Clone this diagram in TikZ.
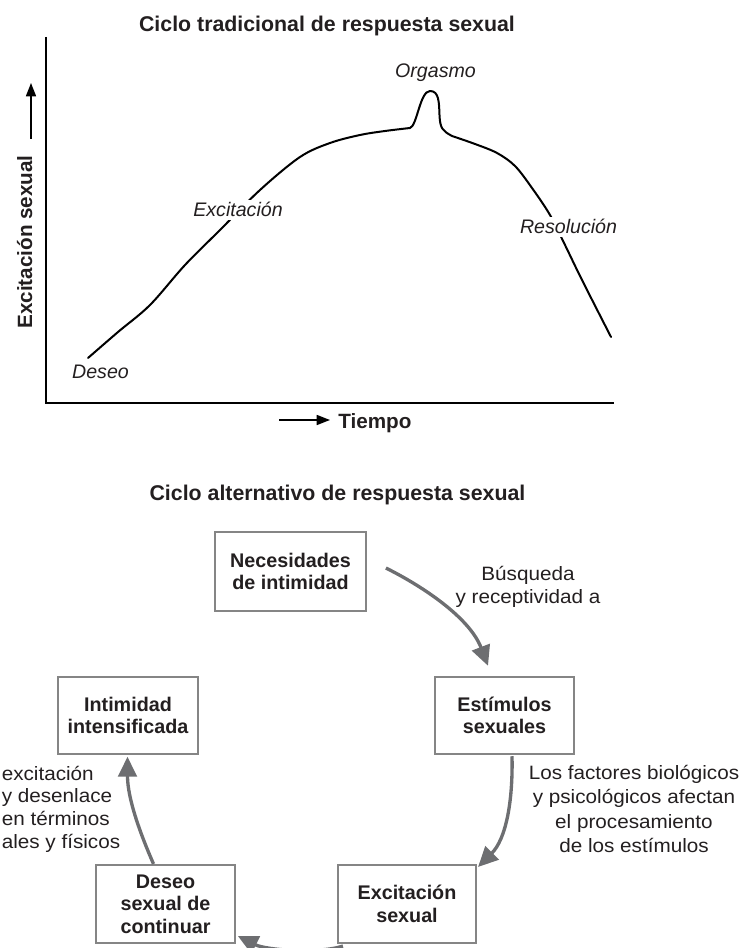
\documentclass[tikz,border=0pt]{standalone}
\usepackage{fontspec}
\setmainfont{Liberation Sans}
\newfontfamily\notefont[FakeStretch=1.07]{Liberation Sans}
\usetikzlibrary{arrows.meta,calc}
\definecolor{arrowgray}{HTML}{6D6E71}
\definecolor{boxgray}{HTML}{858585}
\definecolor{ink}{HTML}{231F20}
\begin{document}
\begin{tikzpicture}[x=0.75pt,y=-0.75pt,
  every node/.style={text=ink},
  ttl/.style={font=\fontsize{16}{19}\selectfont\bfseries, anchor=base},
  axlbl/.style={font=\fontsize{15.5}{18}\selectfont\bfseries},
  phase/.style={font=\fontsize{14.7}{17}\selectfont\itshape, anchor=base},
  box/.style={draw=boxgray, line width=1.6pt, fill=white, align=center,
    font=\fontsize{14.8}{17}\selectfont\bfseries,
    minimum width=104pt, minimum height=58pt, inner sep=2pt},
  note/.style={font=\notefont\fontsize{14.5}{17.5}\selectfont, align=center},
  cyc/.style={draw=arrowgray, line width=2.5pt, -{Triangle[length=15pt,width=14pt]}},
  axarrow/.style={line width=1.2pt, -{Triangle[length=10pt,width=7.5pt]}},
  curve/.style={line width=1.5pt, line join=round, line cap=round},
]
\useasboundingbox (0,0) rectangle (743,948);

% ---------- top chart ----------
\node[ttl] (t1) at (327,32) {Ciclo tradicional de respuesta sexual};

\coordinate (ytop) at (46,37);
\coordinate (orig) at (46,403);
\coordinate (xend) at (614,403);
\draw[line width=1.8pt] (ytop) -- (orig) -- (xend);

\node[axlbl, rotate=90, anchor=base] (ylab) at (32,242) {Excitación sexual};
\coordinate (ya1) at (31,139);
\coordinate (ya2) at (31,83);
\draw[axarrow] (ya1) -- (ya2);

\node[axlbl, anchor=base west, inner sep=0pt] (tiempo) at (338,428) {Tiempo};
\coordinate (xa1) at (279,420);
\draw[axarrow] (xa1) -- ($(xa1 -| tiempo.west)+(-8,0)$);

\draw[curve] plot[smooth, tension=0.55] coordinates
  {(88,358) (118,332) (150,305) (185,265) (220,230) (260,190) (300,157)
   (330,143) (360,135) (385,131) (410,128)}
  .. controls (417,126) and (420,91) .. (430,91)
  .. controls (439,91) and (439,102) .. (439.5,115)
  .. controls (440,129) and (443,131) .. (452,136)
  -- plot[smooth, tension=0.55] coordinates
  {(452,136) (475,144) (497,153) (515,166) (532,188) (550,215) (565,245)
   (582,280) (611,337)};

\node[phase, fill=white, inner sep=2pt] (lexc) at (238,217) {Excitación};
\node[phase] (lorg) at (435.5,78) {Orgasmo};
\node[phase, fill=white, inner sep=2pt] (lres) at (568.5,234) {Resolución};
\node[phase] (ldes) at (100.5,378) {Deseo};

% ---------- bottom cycle ----------
\node[ttl] (t2) at (337.5,500) {Ciclo alternativo de respuesta sexual};

\node[box, minimum width=113pt, minimum height=59pt] (nec) at (290.5,571.5) {Necesidades\\de intimidad};
\node[box] (est) at (504.5,715.5) {Estímulos\\sexuales};
\node[box, minimum width=105pt] (int) at (128,715.5) {Intimidad\\intensificada};
\node[box, minimum height=58.5pt] (des) at (165.5,904) {Deseo\\sexual de\\continuar};
\node[box, minimum width=103.5pt, minimum height=58.5pt] (exc) at (407,904) {Excitación\\sexual};

\draw[cyc] ($(nec.east)+(19,-3.5)$) .. controls +(40,20) and +(-18,-47) .. ($(est.north)+(-16.5,-10)$);
\draw[cyc] ($(est.south)+(7.5,1)$) .. controls +(1,45) and +(28,-28) .. ($(exc.north east)+(1,3)$);
\draw[cyc] ($(exc.south west)+(6,2)$) .. controls +(-25,8) and +(28,14) .. ($(des.south east)+(2,-8)$);
\draw[cyc] ($(des.north)+(-12,0)$) .. controls +(-20.5,-47) and +(0,34) .. ($(int.south)+(-0.5,1.5)$);

\node[note] (n1) at (528,587) {Búsqueda\\y receptividad a};
\node[note, font=\notefont\fontsize{14.5}{18.2}\selectfont] (n2) at (634,809) {Los factores biológicos\\y psicológicos afectan\\el procesamiento\\de los estímulos};
\node[note, font=\notefont\fontsize{14.5}{17}\selectfont, align=left, anchor=west, inner sep=0pt] (n3) at (1.5,809) {excitación\\y desenlace\\en términos\\ales y físicos};
\end{tikzpicture}
\end{document}
